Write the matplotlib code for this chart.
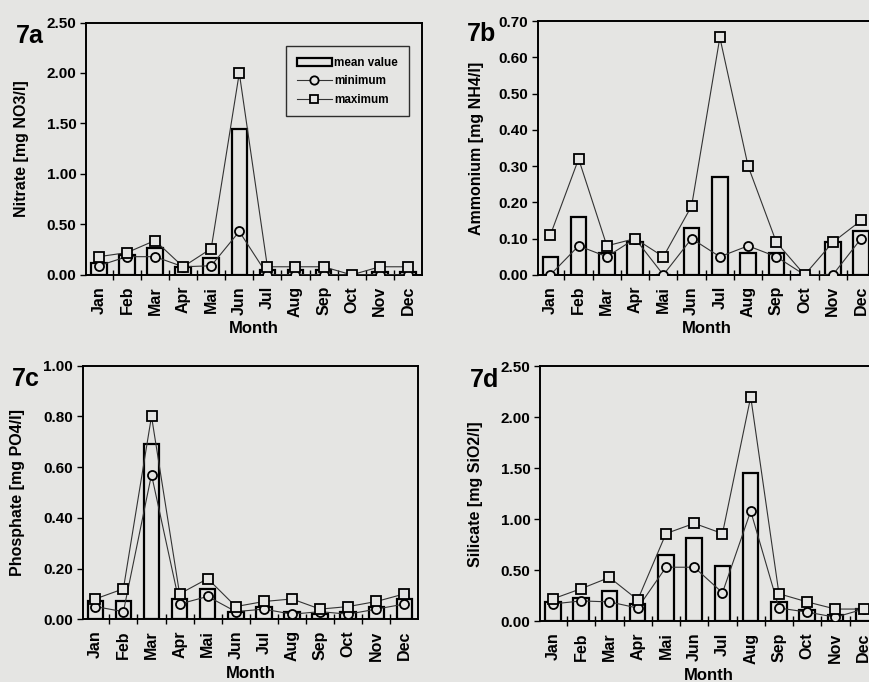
import numpy as np
import matplotlib
matplotlib.use("Agg")
import matplotlib.pyplot as plt
from matplotlib.patches import Rectangle
from matplotlib.lines import Line2D
from matplotlib.ticker import MultipleLocator, FormatStrFormatter

plt.rcParams["font.family"] = ["Liberation Sans", "DejaVu Sans"]
plt.rcParams["font.weight"] = "bold"

PAPER = "#e5e5e3"

months = ["Jan", "Feb", "Mar", "Apr", "Mai", "Jun",
          "Jul", "Aug", "Sep", "Oct", "Nov", "Dec"]

# ── 7a Nitrate ────────────────────────────────────────────────────────────
nitrate_mean = [0.12, 0.20, 0.27, 0.08, 0.17, 1.44, 0.05, 0.05, 0.05, 0.00, 0.03, 0.03]
nitrate_min  = [0.09, 0.18, 0.18, 0.08, 0.09, 0.43, 0.00, 0.00, 0.00, 0.00, 0.00, 0.00]
nitrate_max  = [0.18, 0.22, 0.34, 0.08, 0.26, 2.00, 0.08, 0.08, 0.08, 0.00, 0.08, 0.08]

# ── 7b Ammonium ───────────────────────────────────────────────────────────
ammonium_mean = [0.05, 0.16, 0.06, 0.09, 0.00, 0.13, 0.27, 0.06, 0.06, 0.00, 0.09, 0.12]
ammonium_min  = [0.00, 0.08, 0.05, 0.10, 0.00, 0.10, 0.05, 0.08, 0.05, 0.00, 0.00, 0.10]
ammonium_max  = [0.11, 0.32, 0.08, 0.10, 0.05, 0.19, 0.655, 0.30, 0.09, 0.00, 0.09, 0.15]

# ── 7c Phosphate ──────────────────────────────────────────────────────────
phosphate_mean = [0.07, 0.07, 0.69, 0.08, 0.12, 0.03, 0.05, 0.03, 0.02, 0.03, 0.05, 0.08]
phosphate_min  = [0.05, 0.03, 0.57, 0.06, 0.09, 0.03, 0.04, 0.02, 0.03, 0.02, 0.04, 0.06]
phosphate_max  = [0.08, 0.12, 0.80, 0.10, 0.16, 0.05, 0.07, 0.08, 0.04, 0.05, 0.07, 0.10]

# ── 7d Silicate ───────────────────────────────────────────────────────────
silicate_mean = [0.19, 0.23, 0.30, 0.17, 0.65, 0.82, 0.54, 1.45, 0.19, 0.11, 0.06, 0.12]
silicate_min  = [0.17, 0.20, 0.19, 0.13, 0.53, 0.53, 0.28, 1.08, 0.13, 0.09, 0.04, 0.12]
silicate_max  = [0.22, 0.32, 0.43, 0.21, 0.86, 0.96, 0.86, 2.20, 0.27, 0.19, 0.12, 0.12]

panels = [
    # tag, ylabel, mean, min, max, ymax, ystep, axes rect, ylabel pad
    ("7a", "Nitrate [mg NO3/l]", nitrate_mean, nitrate_min, nitrate_max,
     2.5, 0.5, [0.099, 0.597, 0.386, 0.370], 13),
    ("7b", "Ammonium [mg NH4/l]", ammonium_mean, ammonium_min, ammonium_max,
     0.7, 0.1, [0.618, 0.597, 0.388, 0.372], 10),
    ("7c", "Phosphate [mg PO4/l]", phosphate_mean, phosphate_min, phosphate_max,
     1.0, 0.2, [0.095, 0.092, 0.386, 0.372], 13),
    ("7d", "Silicate [mg SiO2/l]", silicate_mean, silicate_min, silicate_max,
     2.5, 0.5, [0.621, 0.089, 0.388, 0.374], 13),
]

fig = plt.figure(figsize=(8.7, 6.82), dpi=100, facecolor=PAPER)
x = np.arange(len(months))

for tag, ylabel, mean, vmin, vmax, ymax, ystep, rect, ypad in panels:
    ax = fig.add_axes(rect, facecolor=PAPER)
    ax.bar(x, mean, width=0.55, facecolor="none", edgecolor="black",
           linewidth=1.6, zorder=2)
    ax.plot(x, vmin, color="#333333", lw=0.8, marker="o", ms=6.5,
            mfc=PAPER, mec="black", mew=1.3, zorder=3)
    ax.plot(x, vmax, color="#333333", lw=0.8, marker="s", ms=6.5,
            mfc=PAPER, mec="black", mew=1.3, zorder=3)

    ax.set_xlim(-0.45, 11.5)
    ax.set_ylim(0, ymax)
    ax.yaxis.set_major_locator(MultipleLocator(ystep))
    ax.yaxis.set_major_formatter(FormatStrFormatter("%.2f"))
    ax.set_xticks(x)
    ax.set_xticklabels(months, rotation=90, fontsize=11.5, fontweight="bold")
    ax.set_xticks(x[:-1] + 0.5, minor=True)
    ax.tick_params(axis="x", which="major", length=0, pad=8)
    ax.tick_params(axis="x", which="minor", length=7, direction="inout", width=1)
    ax.tick_params(axis="y", length=4, width=1, labelsize=11, pad=3)
    for lbl in ax.get_yticklabels():
        lbl.set_fontweight("bold")
    for sp in ax.spines.values():
        sp.set_linewidth(1.4)

    ax.set_ylabel(ylabel, fontsize=11.5, fontweight="bold", labelpad=ypad)
    ax.set_xlabel("Month", fontsize=12, fontweight="bold", labelpad=3)
    ax.text(-0.21, 0.995, tag, transform=ax.transAxes, fontsize=18,
            fontweight="bold", ha="left", va="top")

    if tag == "7a":
        handles = [
            Rectangle((0, 0), 1, 1, facecolor="none", edgecolor="black", lw=1.6),
            Line2D([], [], color="#333333", lw=0.8, marker="o", ms=6,
                   mfc=PAPER, mec="black", mew=1.3),
            Line2D([], [], color="#333333", lw=0.8, marker="s", ms=6,
                   mfc=PAPER, mec="black", mew=1.3),
        ]
        leg = ax.legend(handles, ["mean value", "minimum", "maximum"],
                        loc="upper right", bbox_to_anchor=(0.96, 0.905),
                        fontsize=8.4, frameon=True, fancybox=False,
                        handlelength=3.0, handletextpad=0.2,
                        borderpad=0.9, labelspacing=0.55, borderaxespad=0)
        leg.get_frame().set_edgecolor("black")
        leg.get_frame().set_facecolor(PAPER)
        leg.get_frame().set_linewidth(1.0)

fig.savefig("out.png", dpi=100, facecolor=PAPER)
